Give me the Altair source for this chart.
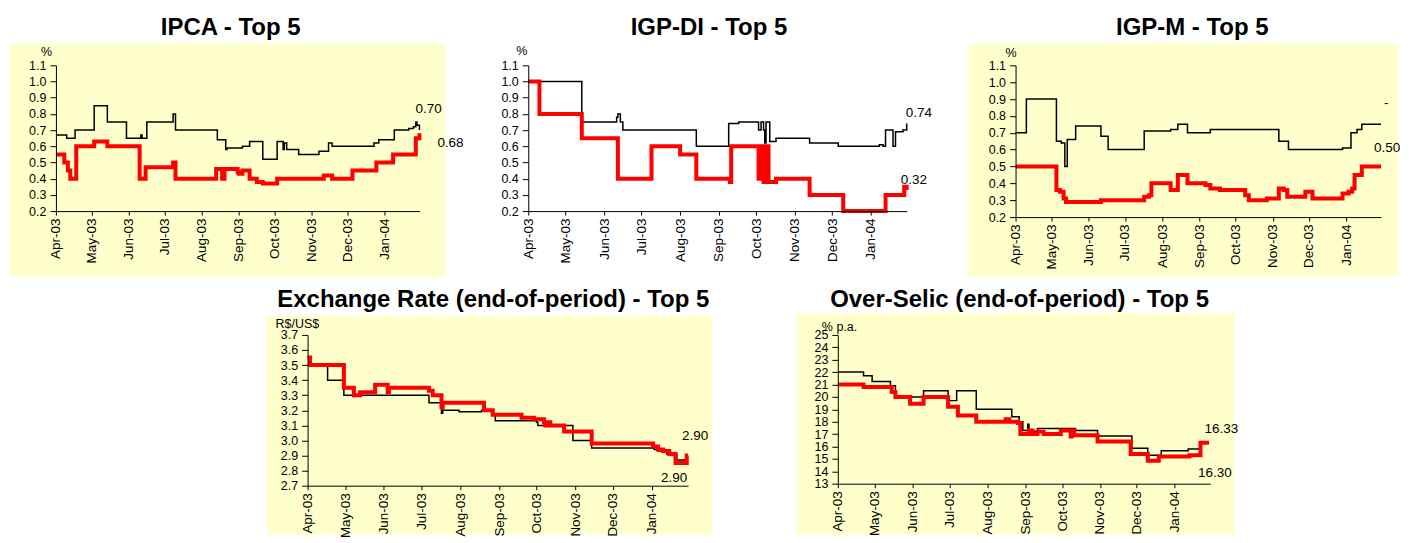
import altair as alt
import pandas as pd

FONT = "Liberation Sans"
YELLOW = "#FFFFCC"
RED = "#FF0000"

# ---------------- data ----------------
month_ticks = [(2003, 4), (2003, 5), (2003, 6), (2003, 7), (2003, 8), (2003, 9),
               (2003, 10), (2003, 11), (2003, 12), (2004, 1)]
pct_ticks = [0.2, 0.3, 0.4, 0.5, 0.6, 0.7, 0.8, 0.9, 1.0, 1.1]
fx_ticks = [2.7, 2.8, 2.9, 3.0, 3.1, 3.2, 3.3, 3.4, 3.5, 3.6, 3.7]
selic_ticks = [13, 14, 15, 16, 17, 18, 19, 20, 21, 22, 23, 24, 25]

titles = ["IPCA - Top 5", "IGP-DI - Top 5", "IGP-M - Top 5",
          "Exchange Rate (end-of-period) - Top 5", "Over-Selic (end-of-period) - Top 5"]
units = ["%", "%", "%", "R$/US$", "% p.a."]
end_labels = [["0.70", "0.68"], ["0.74", "0.32"], ["-", "0.50"], ["2.90", "2.90"], ["16.33", "16.30"]]

ipca_black_dates = ["2003-04-01", "2003-04-10", "2003-04-17", "2003-05-03", "2003-05-14", "2003-05-30",
                    "2003-06-11", "2003-06-12", "2003-06-16", "2003-07-08", "2003-07-10", "2003-08-14",
                    "2003-08-21", "2003-08-22", "2003-09-04", "2003-09-10", "2003-09-21", "2003-10-03",
                    "2003-10-08", "2003-10-09", "2003-10-11", "2003-10-21", "2003-11-07", "2003-11-15",
                    "2003-11-18", "2003-12-23", "2003-12-27", "2004-01-09", "2004-01-21", "2004-01-25",
                    "2004-01-27", "2004-01-28", "2004-01-30"]
ipca_black_vals = [0.67, 0.65, 0.70, 0.85, 0.75, 0.65, 0.67, 0.65, 0.75, 0.80, 0.70, 0.64,
                   0.58, 0.59, 0.60, 0.63, 0.52, 0.63, 0.58, 0.62, 0.58, 0.55, 0.57, 0.62,
                   0.60, 0.62, 0.64, 0.70, 0.71, 0.72, 0.75, 0.73, 0.70]
ipca_red_dates = ["2003-04-01", "2003-04-08", "2003-04-11", "2003-04-13", "2003-04-18", "2003-05-03",
                  "2003-05-14", "2003-06-10", "2003-06-15", "2003-07-08", "2003-07-10", "2003-08-13",
                  "2003-08-18", "2003-08-20", "2003-08-31", "2003-09-01", "2003-09-04", "2003-09-10",
                  "2003-09-16", "2003-09-21", "2003-10-03", "2003-11-11", "2003-11-18", "2003-12-05",
                  "2003-12-25", "2004-01-08", "2004-01-27", "2004-01-30"]
ipca_red_vals = [0.55, 0.50, 0.45, 0.40, 0.60, 0.63, 0.60, 0.40, 0.47, 0.50, 0.40, 0.46,
                 0.40, 0.46, 0.44, 0.43, 0.45, 0.40, 0.38, 0.37, 0.40, 0.42, 0.40, 0.45,
                 0.50, 0.55, 0.65, 0.68]

igpdi_black_dates = ["2003-04-01", "2003-05-14", "2003-06-11", "2003-06-12", "2003-06-14", "2003-06-16",
                     "2003-08-14", "2003-09-09", "2003-09-17", "2003-10-03", "2003-10-05", "2003-10-07",
                     "2003-10-08", "2003-10-09", "2003-10-12", "2003-10-17", "2003-11-13", "2003-12-06",
                     "2004-01-08", "2004-01-11", "2004-01-13", "2004-01-19", "2004-01-21", "2004-01-27",
                     "2004-01-30"]
igpdi_black_vals = [1.00, 0.75, 0.78, 0.80, 0.75, 0.70, 0.60, 0.74, 0.75, 0.70, 0.75, 0.70,
                    0.62, 0.75, 0.63, 0.65, 0.62, 0.60, 0.61, 0.60, 0.70, 0.60, 0.69, 0.70, 0.74]
igpdi_red_dates = ["2003-04-01", "2003-04-10", "2003-05-14", "2003-06-12", "2003-07-09", "2003-08-01",
                   "2003-08-14", "2003-09-10", "2003-09-11", "2003-10-03", "2003-10-05", "2003-10-07",
                   "2003-10-09", "2003-10-11", "2003-10-17", "2003-11-13", "2003-12-10", "2004-01-13",
                   "2004-01-28", "2004-01-30"]
igpdi_red_vals = [1.00, 0.80, 0.65, 0.40, 0.60, 0.55, 0.40, 0.38, 0.60, 0.40, 0.60, 0.38,
                  0.60, 0.38, 0.40, 0.30, 0.20, 0.30, 0.35, 0.33]

igpm_black_dates = ["2003-04-01", "2003-04-10", "2003-05-05", "2003-05-09", "2003-05-12", "2003-05-14",
                    "2003-05-21", "2003-06-11", "2003-06-17", "2003-07-17", "2003-08-08", "2003-08-14",
                    "2003-08-22", "2003-09-10", "2003-11-06", "2003-11-14", "2003-12-29", "2004-01-05",
                    "2004-01-10", "2004-01-14", "2004-01-30"]
igpm_black_vals = [0.70, 0.90, 0.65, 0.64, 0.50, 0.66, 0.74, 0.68, 0.60, 0.71, 0.72, 0.75,
                   0.70, 0.72, 0.65, 0.60, 0.61, 0.70, 0.72, 0.75, 0.75]
igpm_red_dates = ["2003-04-01", "2003-05-05", "2003-05-08", "2003-05-11", "2003-05-13", "2003-06-11",
                  "2003-07-17", "2003-07-21", "2003-07-23", "2003-08-08", "2003-08-14", "2003-08-22",
                  "2003-09-06", "2003-09-10", "2003-09-18", "2003-10-09", "2003-10-12", "2003-10-27",
                  "2003-11-06", "2003-11-10", "2003-11-13", "2003-11-28", "2003-12-04", "2003-12-29",
                  "2004-01-03", "2004-01-06", "2004-01-08", "2004-01-14", "2004-01-30"]
igpm_red_vals = [0.50, 0.36, 0.35, 0.31, 0.29, 0.30, 0.32, 0.33, 0.40, 0.36, 0.45, 0.40,
                 0.39, 0.37, 0.36, 0.33, 0.30, 0.31, 0.37, 0.36, 0.32, 0.35, 0.31, 0.34,
                 0.35, 0.37, 0.45, 0.50, 0.50]

fx_black_dates = ["2003-04-01", "2003-04-17", "2003-04-30", "2003-07-07", "2003-07-17", "2003-07-18",
                  "2003-07-31", "2003-08-18", "2003-08-26", "2003-08-29", "2003-10-01", "2003-10-02",
                  "2003-10-30", "2003-11-14", "2004-01-03", "2004-01-06", "2004-01-13", "2004-01-21",
                  "2004-01-30"]
fx_black_vals = [3.50, 3.40, 3.30, 3.25, 3.18, 3.20, 3.19, 3.20, 3.17, 3.13, 3.12, 3.10,
                 3.00, 2.95, 2.94, 2.93, 2.91, 2.87, 2.87]
fx_red_dates = ["2003-04-01", "2003-04-03", "2003-04-30", "2003-05-08", "2003-05-13", "2003-05-25",
                "2003-06-04", "2003-06-05", "2003-07-07", "2003-07-10", "2003-07-17", "2003-07-18",
                "2003-08-20", "2003-08-27", "2003-09-19", "2003-09-29", "2003-10-07", "2003-10-08",
                "2003-10-09", "2003-10-12", "2003-10-23", "2003-11-14", "2004-01-02", "2004-01-06",
                "2004-01-10", "2004-01-15", "2004-01-20", "2004-01-29", "2004-01-30"]
fx_red_vals = [3.55, 3.50, 3.35, 3.30, 3.32, 3.37, 3.32, 3.35, 3.33, 3.30, 3.22, 3.25,
               3.20, 3.17, 3.15, 3.14, 3.12, 3.10, 3.12, 3.10, 3.06, 2.98, 2.96, 2.94,
               2.93, 2.91, 2.85, 2.90, 2.90]

selic_black_dates = ["2003-04-01", "2003-04-22", "2003-04-29", "2003-05-14", "2003-05-18", "2003-06-10",
                     "2003-06-30", "2003-07-07", "2003-07-23", "2003-08-21", "2003-08-27", "2003-08-30",
                     "2003-09-03", "2003-09-04", "2003-09-11", "2003-10-12", "2003-10-30", "2003-11-27",
                     "2003-12-10", "2003-12-21", "2004-01-12", "2004-01-22", "2004-01-27"]
selic_black_vals = [22.0, 21.7, 21.25, 20.9, 20.0, 20.5, 19.7, 20.5, 19.0, 18.4, 18.0, 17.3,
                    17.8, 17.2, 17.45, 17.3, 16.85, 15.85, 15.3, 15.65, 15.8, 16.3, 16.3]
selic_red_dates = ["2003-04-01", "2003-04-22", "2003-05-15", "2003-05-18", "2003-05-30", "2003-06-10",
                   "2003-06-30", "2003-07-08", "2003-07-23", "2003-08-16", "2003-08-19", "2003-08-26",
                   "2003-08-28", "2003-09-04", "2003-09-07", "2003-09-11", "2003-09-16", "2003-09-30",
                   "2003-10-08", "2003-10-09", "2003-10-11", "2003-10-30", "2003-11-26", "2003-12-10",
                   "2003-12-19", "2004-01-13", "2004-01-22", "2004-01-29"]
selic_red_vals = [21.0, 20.8, 20.4, 20.0, 19.45, 20.0, 19.2, 18.5, 18.0, 18.2, 18.0, 17.9,
                  17.0, 17.3, 17.0, 17.2, 17.0, 17.3, 16.8, 17.3, 16.9, 16.4, 15.4, 14.85,
                  15.2, 15.3, 16.3, 16.3]


# ---------------- helpers ----------------
def dt(y, m, d):
    return alt.DateTime(year=y, month=m, date=d, utc=True)


X_DOMAIN = [dt(2003, 4, 1), dt(2004, 1, 30)]
X_VALUES = [dt(y, m, 1) for (y, m) in month_ticks]


def panel(i, bd, bv, rd, rv, ydom, yticks, yfmt, w, h, frame, yellow,
          title_x, title_y, unit_xy, lab_offsets):
    xax = alt.Axis(values=X_VALUES, labelExpr="utcFormat(datum.value, '%b-%y')",
                   labelAngle=270,
                   labelFlush=False, labelOverlap=False, labelBound=False,
                   labelFont=FONT, labelFontSize=13.5, labelColor="black",
                   tickSize=4, tickColor="black", labelPadding=3,
                   domainColor="black", domainWidth=1, grid=False, title=None, zindex=1)
    yax = alt.Axis(values=yticks, format=yfmt, labelFlush=False, labelOverlap=False,
                   labelFont=FONT, labelFontSize=12.5, labelColor="black",
                   tickSize=6, tickColor="black", labelPadding=4,
                   domainColor="black", domainWidth=1, grid=False, title=None, zindex=1)
    X = alt.X("date:T", scale=alt.Scale(type="utc", domain=X_DOMAIN, nice=False), axis=xax)
    Y = alt.Y("value:Q", scale=alt.Scale(domain=ydom, nice=False, zero=False), axis=yax)

    one = pd.DataFrame({"t": [titles[i]], "u": [units[i]]})
    layers = []
    fx1, fx2, fy1, fy2 = frame
    layers.append(alt.Chart(one).mark_rect(fill="white").encode(
        x=alt.value(fx1), x2=alt.value(fx2), y=alt.value(fy1), y2=alt.value(fy2)))
    if yellow is not None:
        yx1, yx2, yy1, yy2 = yellow
        layers.append(alt.Chart(one).mark_rect(fill=YELLOW).encode(
            x=alt.value(yx1), x2=alt.value(yx2), y=alt.value(yy1), y2=alt.value(yy2)))

    black = pd.DataFrame({"date": bd, "value": bv})
    red = pd.DataFrame({"date": rd, "value": rv})
    layers.append(alt.Chart(black).mark_line(color="black", strokeWidth=1.5,
                                             interpolate="step-after").encode(x=X, y=Y))
    layers.append(alt.Chart(red).mark_line(color=RED, strokeWidth=4,
                                           interpolate="step-after").encode(x=X, y=Y))

    layers.append(alt.Chart(one).mark_text(font=FONT, fontSize=24, fontWeight="bold",
                                           align="center", baseline="alphabetic",
                                           color="black").encode(
        x=alt.value(title_x), y=alt.value(title_y), text="t:N"))
    layers.append(alt.Chart(one).mark_text(font=FONT, fontSize=12.5, align="left",
                                           baseline="alphabetic", color="black").encode(
        x=alt.value(unit_xy[0]), y=alt.value(unit_xy[1]), text="u:N"))

    ends = [(bd[-1], bv[-1]), (rd[-1], rv[-1])]
    for (d, v), txt, (ddx, ddy) in zip(ends, end_labels[i], lab_offsets):
        lab = pd.DataFrame({"date": [d], "value": [v], "label": [txt]})
        layers.append(alt.Chart(lab).mark_text(font=FONT, fontSize=13.5, align="left",
                                               baseline="alphabetic", color="black",
                                               dx=ddx, dy=ddy).encode(x=X, y=Y, text="label:N"))
    return alt.layer(*layers).properties(width=w, height=h)


p1 = panel(0, ipca_black_dates, ipca_black_vals, ipca_red_dates, ipca_red_vals,
           [0.2, 1.1], pct_ticks, ".1f", 364, 146,
           (-48, 414, -57, 218), (-46, 390, -22, 212), 175, -30, (-15, -9),
           [(-4, -17), (18, 14)])
p2 = panel(1, igpdi_black_dates, igpdi_black_vals, igpdi_red_dates, igpdi_red_vals,
           [0.2, 1.1], pct_ticks, ".1f", 379, 146,
           (-59, 426, -57, 218), None, 181, -30, (-12, -10),
           [(-1, -7), (-6, -6)])
p3 = panel(2, igpm_black_dates, igpm_black_vals, igpm_red_dates, igpm_red_vals,
           [0.2, 1.1], pct_ticks, ".1f", 366, 152,
           (-62, 384, -57, 218), (-47, 384, -22, 212), 177, -30, (-10, -8),
           [(3, -17), (-7, -15)])
p4 = panel(3, fx_black_dates, fx_black_vals, fx_red_dates, fx_red_vals,
           [2.7, 3.7], fx_ticks, ".1f", 381, 151,
           (-46, 452, -52, 200), (-41, 405, -19, 200), 186, -28, (-32, -7),
           [(-27, 22), (-6, -16)])
p5 = panel(4, selic_black_dates, selic_black_vals, selic_red_dates, selic_red_vals,
           [13, 25], selic_ticks, "d", 373, 149,
           (-79, 562, -52, 200), (-41, 397, -22, 200), 182, -28, (-16, -4),
           [(-2, -10), (-11, 34)])

spacer = alt.Chart(pd.DataFrame({"t": [""]})).mark_rect(fill="white").encode(
    x=alt.value(-48), x2=alt.value(206), y=alt.value(-52), y2=alt.value(200)
).properties(width=100, height=150)

row1 = alt.hconcat(p1, p2, p3, spacing=0)
row2 = alt.hconcat(spacer, p4, p5, spacing=0)

chart = alt.vconcat(row1, row2, spacing=0).properties(
    padding=0, background="white"
).configure_view(strokeWidth=0)

chart.save("out.html", embed_options={"renderer": "svg", "actions": False})
